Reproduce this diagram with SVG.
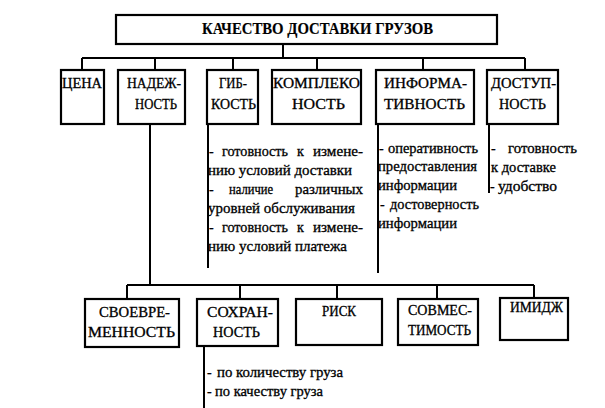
<svg xmlns="http://www.w3.org/2000/svg" width="605" height="408" viewBox="0 0 605 408">
<style>
.box{fill:#fff;stroke:#000;stroke-width:2.2}
.ln{fill:none;stroke:#000;stroke-width:2}
text{font-family:'Liberation Serif','DejaVu Serif','Times New Roman',serif;fill:#000;stroke:#000;stroke-width:0.3}
.lbl{font-size:14px}
.t{font-size:14px}
.title{font-size:16px;font-weight:bold;stroke-width:0.15}
</style>
<rect width="605" height="408" fill="#fff"/>
<g id="connectors">
<path class="ln" d="M283,44 V58 M82,58 H525 M82,58 V70 M155,58 V70 M233,58 V70 M317,58 V70 M423,58 V70 M525,58 V70"/>
<path class="ln" d="M150,124 V285 M127,285 H534 M127,285 V299 M240,285 V299 M337,285 V299 M437,285 V299 M534,285 V298"/>
<path class="ln" d="M208,124 V268 M378,124 V273 M489,124 V193 M204,346 V408"/>
</g>
<g id="title"><rect class="box" x="116" y="15" width="381" height="29"/><text class="title" x="202" y="34" textLength="231" lengthAdjust="spacingAndGlyphs">КАЧЕСТВО ДОСТАВКИ ГРУЗОВ</text></g>
<g id="cena"><rect class="box" x="61" y="70" width="43" height="54"/><text class="lbl" x="62" y="88" textLength="40" lengthAdjust="spacingAndGlyphs">ЦЕНА</text></g>
<g id="nadezh"><rect class="box" x="118" y="70" width="67" height="54"/><text class="lbl" x="127" y="88" textLength="54" lengthAdjust="spacingAndGlyphs">НАДЕЖ-</text><text class="lbl" x="135" y="109" textLength="42" lengthAdjust="spacingAndGlyphs">НОСТЬ</text></g>
<g id="gib"><rect class="box" x="207" y="70" width="51" height="54"/><text class="lbl" x="219" y="88" textLength="28" lengthAdjust="spacingAndGlyphs">ГИБ-</text><text class="lbl" x="211" y="109" textLength="45" lengthAdjust="spacingAndGlyphs">КОСТЬ</text></g>
<g id="kompl"><rect class="box" x="272" y="70" width="89" height="54"/><text class="lbl" x="273" y="88" textLength="87" lengthAdjust="spacingAndGlyphs">КОМПЛЕКО</text><text class="lbl" x="292" y="109" textLength="53" lengthAdjust="spacingAndGlyphs">НОСТЬ</text></g>
<g id="inform"><rect class="box" x="376" y="70" width="98" height="54"/><text class="lbl" x="384" y="88" textLength="83" lengthAdjust="spacingAndGlyphs">ИНФОРМА-</text><text class="lbl" x="384" y="109" textLength="81" lengthAdjust="spacingAndGlyphs">ТИВНОСТЬ</text></g>
<g id="dostup"><rect class="box" x="487" y="70" width="71" height="54"/><text class="lbl" x="491" y="88" textLength="65" lengthAdjust="spacingAndGlyphs">ДОСТУП-</text><text class="lbl" x="499" y="109" textLength="47" lengthAdjust="spacingAndGlyphs">НОСТЬ</text></g>
<g id="gib-notes">
<text class="t" x="209" y="156">-</text><text class="t" x="222" y="156" textLength="66" lengthAdjust="spacingAndGlyphs">готовность</text><text class="t" x="297" y="156">к</text><text class="t" x="313" y="156" textLength="50" lengthAdjust="spacingAndGlyphs">измене-</text>
<text class="t" x="208" y="175" textLength="144" lengthAdjust="spacingAndGlyphs">нию условий доставки</text>
<text class="t" x="209" y="194">-</text><text class="t" x="229" y="194" textLength="44" lengthAdjust="spacingAndGlyphs">наличие</text><text class="t" x="295" y="194" textLength="68" lengthAdjust="spacingAndGlyphs">различных</text>
<text class="t" x="208" y="213" textLength="147" lengthAdjust="spacingAndGlyphs">уровней обслуживания</text>
<text class="t" x="209" y="232">-</text><text class="t" x="222" y="232" textLength="66" lengthAdjust="spacingAndGlyphs">готовность</text><text class="t" x="297" y="232">к</text><text class="t" x="313" y="232" textLength="50" lengthAdjust="spacingAndGlyphs">измене-</text>
<text class="t" x="208" y="251" textLength="139" lengthAdjust="spacingAndGlyphs">нию условий платежа</text>
</g>
<g id="inform-notes">
<text class="t" x="379" y="153">-</text><text class="t" x="388" y="153" textLength="90" lengthAdjust="spacingAndGlyphs">оперативность</text>
<text class="t" x="378" y="171" textLength="99" lengthAdjust="spacingAndGlyphs">предоставления</text>
<text class="t" x="378" y="190" textLength="79" lengthAdjust="spacingAndGlyphs">информации</text>
<text class="t" x="380" y="209">-</text><text class="t" x="390" y="209" textLength="89" lengthAdjust="spacingAndGlyphs">достоверность</text>
<text class="t" x="378" y="228" textLength="79" lengthAdjust="spacingAndGlyphs">информации</text>
</g>
<g id="dostup-notes">
<text class="t" x="491" y="153">-</text><text class="t" x="508" y="153" textLength="69" lengthAdjust="spacingAndGlyphs">готовность</text>
<text class="t" x="491" y="172" textLength="65" lengthAdjust="spacingAndGlyphs">к доставке</text>
<text class="t" x="490" y="191">-</text><text class="t" x="498" y="191" textLength="59" lengthAdjust="spacingAndGlyphs">удобство</text>
</g>
<g id="svoevr"><rect class="box" x="85" y="299" width="94" height="48"/><text class="lbl" x="99" y="317" textLength="71" lengthAdjust="spacingAndGlyphs">СВОЕВРЕ-</text><text class="lbl" x="88" y="337" textLength="87" lengthAdjust="spacingAndGlyphs">МЕННОСТЬ</text></g>
<g id="sohran"><rect class="box" x="197" y="299" width="81" height="47"/><text class="lbl" x="207" y="317" textLength="66" lengthAdjust="spacingAndGlyphs">СОХРАН-</text><text class="lbl" x="213" y="337" textLength="47" lengthAdjust="spacingAndGlyphs">НОСТЬ</text></g>
<g id="risk"><rect class="box" x="296" y="299" width="86" height="46"/><text class="lbl" x="322" y="316" textLength="34" lengthAdjust="spacingAndGlyphs">РИСК</text></g>
<g id="sovmest"><rect class="box" x="398" y="299" width="80" height="46"/><text class="lbl" x="408" y="315" textLength="64" lengthAdjust="spacingAndGlyphs">СОВМЕС-</text><text class="lbl" x="408" y="335" textLength="63" lengthAdjust="spacingAndGlyphs">ТИМОСТЬ</text></g>
<g id="imidzh"><rect class="box" x="500" y="298" width="68" height="42"/><text class="lbl" x="510" y="312" textLength="53" lengthAdjust="spacingAndGlyphs">ИМИДЖ</text></g>
<g id="sohran-notes">
<text class="t" x="207" y="377">-</text><text class="t" x="217" y="377" textLength="126" lengthAdjust="spacingAndGlyphs">по количеству груза</text>
<text class="t" x="207" y="396">-</text><text class="t" x="215" y="396" textLength="108" lengthAdjust="spacingAndGlyphs">по качеству груза</text>
</g>
</svg>
